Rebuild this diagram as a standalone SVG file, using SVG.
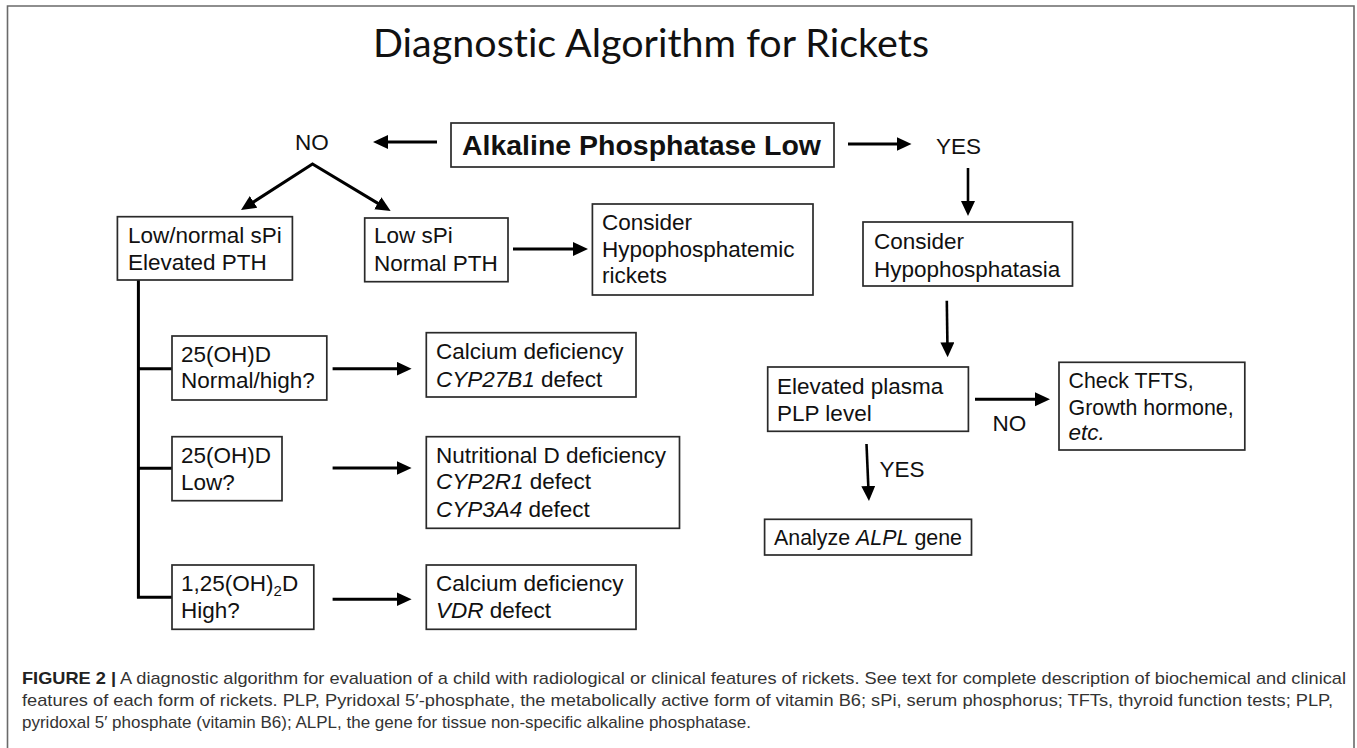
<svg xmlns="http://www.w3.org/2000/svg" width="1357" height="748" viewBox="0 0 1357 748">
<style>
  .bg { fill: #ffffff; }
  .frame { fill: none; stroke: #6a6a6a; stroke-width: 1.6; }
  .box { fill: #ffffff; stroke: #2a2a2a; stroke-width: 1.7; }
  .t { font-family: "Liberation Sans", Arial, Helvetica, sans-serif; font-size: 22.5px; fill: #111111; }
  .b { font-weight: bold; font-size: 28px; }
  .i { font-style: italic; }
  .title { font-family: Lato, "Open Sans", "Liberation Sans", sans-serif; font-size: 39px; fill: #111111; font-variant-ligatures: none; }
  .conn { fill: none; stroke: #000000; stroke-width: 3; }
  .cap { font-family: "Liberation Sans", Arial, Helvetica, sans-serif; font-size: 17px; fill: #333333; }
  .capb { font-weight: bold; fill: #222222; }
</style>
<defs>
  <marker id="ah" markerUnits="userSpaceOnUse" markerWidth="16" markerHeight="15" refX="7" refY="7" orient="auto-start-reverse" viewBox="0 0 16 15">
    <path d="M0,0 L15,7 L0,14 z" fill="#000000"/>
  </marker>
</defs>
<rect class="bg" x="0" y="0" width="1357" height="748"/>
<path class="frame" d="M7.5,748 V6 H1354 V748"/>

<text class="title" x="373" y="57" textLength="556" lengthAdjust="spacingAndGlyphs">Diagnostic Algorithm for Rickets</text>

<g id="connectors">
  <line class="conn" x1="437" y1="142" x2="381" y2="142" marker-end="url(#ah)"/>
  <line class="conn" x1="848" y1="144" x2="903.5" y2="144" marker-end="url(#ah)"/>
  <line class="conn" x1="968" y1="168" x2="968" y2="208" marker-end="url(#ah)" style="stroke-width:2.6"/>
  <path class="conn" d="M247.7,205.7 L312.5,164 L383.8,206.9" marker-start="url(#ah)" marker-end="url(#ah)"/>
  <line class="conn" x1="513" y1="249" x2="580" y2="249" marker-end="url(#ah)"/>
  <path class="conn" d="M138.4,280 V598.5 M137,368.7 H172 M137,468.3 H172 M137,597.3 H172"/>
  <line class="conn" x1="332.6" y1="368.7" x2="403.6" y2="368.7" marker-end="url(#ah)"/>
  <line class="conn" x1="332.6" y1="468" x2="403.6" y2="468" marker-end="url(#ah)"/>
  <line class="conn" x1="332.6" y1="599.3" x2="403.6" y2="599.3" marker-end="url(#ah)"/>
  <line class="conn" x1="946.8" y1="300.7" x2="947.5" y2="349.3" marker-end="url(#ah)" style="stroke-width:2.6"/>
  <line class="conn" x1="975" y1="399.3" x2="1042" y2="399.3" marker-end="url(#ah)"/>
  <line class="conn" x1="866.5" y1="444" x2="868.6" y2="493" marker-end="url(#ah)" style="stroke-width:2.6"/>
</g>

<g id="label-no-top"><text class="t" x="295" y="150">NO</text></g>
<g id="label-yes-top"><text class="t" x="936" y="154">YES</text></g>
<g id="label-no-right"><text class="t" x="992.6" y="430.7">NO</text></g>
<g id="label-yes-bottom"><text class="t" x="879.5" y="476.7">YES</text></g>

<g id="node-alp">
  <rect class="box" x="451" y="123" width="383" height="44"/>
  <text class="t b" x="462" y="155" textLength="359" lengthAdjust="spacingAndGlyphs">Alkaline Phosphatase Low</text>
</g>

<g id="node-lownormal">
  <rect class="box" x="117.4" y="216.7" width="175" height="63.3"/>
  <text class="t" x="128" y="243">Low/normal sPi</text>
  <text class="t" x="128" y="270">Elevated PTH</text>
</g>

<g id="node-lowspi">
  <rect class="box" x="364.7" y="218" width="143.3" height="63.7"/>
  <text class="t" x="374" y="243">Low sPi</text>
  <text class="t" x="374" y="271">Normal PTH</text>
</g>

<g id="node-hypophosphatemic">
  <rect class="box" x="592.4" y="204" width="220.6" height="91"/>
  <text class="t" x="602" y="230">Consider</text>
  <text class="t" x="602" y="257">Hypophosphatemic</text>
  <text class="t" x="602" y="283">rickets</text>
</g>

<g id="node-hypophosphatasia">
  <rect class="box" x="863" y="222" width="209.5" height="64"/>
  <text class="t" x="874" y="249">Consider</text>
  <text class="t" x="874" y="277">Hypophosphatasia</text>
</g>

<g id="node-q1">
  <rect class="box" x="172" y="336" width="154.8" height="64"/>
  <text class="t" x="181" y="361.7">25(OH)D</text>
  <text class="t" x="181" y="388">Normal/high?</text>
</g>

<g id="node-r1">
  <rect class="box" x="426.3" y="332.7" width="209.7" height="64.3"/>
  <text class="t" x="436" y="359">Calcium deficiency</text>
  <text class="t" x="436" y="386.7"><tspan class="i">CYP27B1</tspan> defect</text>
</g>

<g id="node-q2">
  <rect class="box" x="172" y="436.7" width="110" height="64"/>
  <text class="t" x="181" y="462.7">25(OH)D</text>
  <text class="t" x="181" y="490">Low?</text>
</g>

<g id="node-r2">
  <rect class="box" x="426.3" y="436.7" width="253.2" height="91.6"/>
  <text class="t" x="436" y="462.7">Nutritional D deficiency</text>
  <text class="t" x="436" y="489.3"><tspan class="i">CYP2R1</tspan> defect</text>
  <text class="t" x="436" y="516.7"><tspan class="i">CYP3A4</tspan> defect</text>
</g>

<g id="node-q3">
  <rect class="box" x="172" y="565" width="141.8" height="64.3"/>
  <text class="t" x="181" y="590.7">1,25(OH)<tspan font-size="15" dy="5">2</tspan><tspan dy="-5">D</tspan></text>
  <text class="t" x="181" y="618.3">High?</text>
</g>

<g id="node-r3">
  <rect class="box" x="426.3" y="565" width="209.7" height="64.3"/>
  <text class="t" x="436" y="590.7">Calcium deficiency</text>
  <text class="t" x="436" y="618"><tspan class="i">VDR</tspan> defect</text>
</g>

<g id="node-plp">
  <rect class="box" x="767.7" y="367" width="200.7" height="64.3"/>
  <text class="t" x="777" y="394">Elevated plasma</text>
  <text class="t" x="777" y="420.7">PLP level</text>
</g>

<g id="node-check">
  <rect class="box" x="1059" y="362.3" width="185.8" height="87.7"/>
  <text class="t" x="1068.6" y="388" textLength="125" lengthAdjust="spacingAndGlyphs">Check TFTS,</text>
  <text class="t" x="1068.6" y="414.5" textLength="165" lengthAdjust="spacingAndGlyphs">Growth hormone,</text>
  <text class="t i" x="1068.6" y="440">etc.</text>
</g>

<g id="node-alpl">
  <rect class="box" x="764.6" y="519.3" width="206.9" height="35.7"/>
  <text class="t" x="774" y="545.3" textLength="188" lengthAdjust="spacingAndGlyphs">Analyze <tspan class="i">ALPL</tspan> gene</text>
</g>

<g id="caption">
  <text class="cap" x="22" y="684" textLength="1324" lengthAdjust="spacingAndGlyphs"><tspan class="capb">FIGURE 2 |</tspan> A diagnostic algorithm for evaluation of a child with radiological or clinical features of rickets. See text for complete description of biochemical and clinical</text>
  <text class="cap" x="22" y="706" textLength="1311" lengthAdjust="spacingAndGlyphs">features of each form of rickets. PLP, Pyridoxal 5′-phosphate, the metabolically active form of vitamin B6; sPi, serum phosphorus; TFTs, thyroid function tests; PLP,</text>
  <text class="cap" x="22" y="728">pyridoxal 5′ phosphate (vitamin B6); ALPL, the gene for tissue non-specific alkaline phosphatase.</text>
</g>
</svg>
